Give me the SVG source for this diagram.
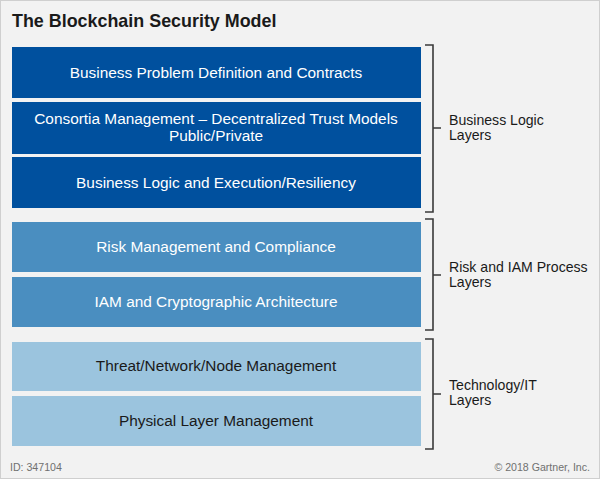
<svg xmlns="http://www.w3.org/2000/svg" width="600" height="479" viewBox="0 0 600 479">
<style>
text{font-family:"Liberation Sans",Arial,sans-serif}
.t{font-size:15.4px;text-anchor:middle}
.w{fill:#ffffff}
.k{fill:#1a1a1a}
.lbl{font-size:14.1px;fill:#1a1a1a}
.br{fill:none;stroke:#3a3a3a;stroke-width:1.6}
.foot{font-size:10.6px;fill:#707070}
.d{fill:#00509e}
.m{fill:#4a8ec0}
.l{fill:#9bc4de}
</style>
<rect x="0" y="0" width="600" height="479" fill="#f2f2f2"/>
<rect x="0.5" y="0.5" width="599" height="478" fill="none" stroke="#cfcfcf"/>
<text x="12" y="27" font-size="17.9" font-weight="bold" fill="#1a1a1a">The Blockchain Security Model</text>
<g id="n1"><rect class="d" x="12" y="47" width="409" height="51"/><text class="t w" x="216" y="78">Business Problem Definition and Contracts</text></g>
<g id="n2"><rect class="d" x="12" y="102" width="409" height="52"/><text class="t w" x="216" y="124">Consortia Management – Decentralized Trust Models</text><text class="t w" x="216" y="140.5">Public/Private</text></g>
<g id="n3"><rect class="d" x="12" y="157" width="409" height="51"/><text class="t w" x="216" y="188">Business Logic and Execution/Resiliency</text></g>
<g id="n4"><rect class="m" x="12" y="222" width="409" height="50"/><text class="t w" x="216" y="252">Risk Management and Compliance</text></g>
<g id="n5"><rect class="m" x="12" y="277" width="409" height="50"/><text class="t w" x="216" y="307">IAM and Cryptographic Architecture</text></g>
<g id="n6"><rect class="l" x="12" y="342" width="409" height="49"/><text class="t k" x="216" y="371">Threat/Network/Node Management</text></g>
<g id="n7"><rect class="l" x="12" y="396" width="409" height="50"/><text class="t k" x="216" y="426">Physical Layer Management</text></g>
<g id="connectors">
<path class="br" d="M425 45 H433 V212 H425 M433 128 H441"/>
<path class="br" d="M425 219 H433 V330 H425 M433 275 H441"/>
<path class="br" d="M425 339 H433 V449 H425 M433 394 H441"/>
</g>
<g id="g1"><text class="lbl" x="449" y="125">Business Logic</text><text class="lbl" x="449" y="140">Layers</text></g>
<g id="g2"><text class="lbl" x="449" y="272">Risk and IAM Process</text><text class="lbl" x="449" y="287">Layers</text></g>
<g id="g3"><text class="lbl" x="449" y="390">Technology/IT</text><text class="lbl" x="449" y="405">Layers</text></g>
<text class="foot" x="10" y="471">ID: 347104</text>
<text class="foot" x="590" y="471" text-anchor="end">© 2018 Gartner, Inc.</text>
</svg>
